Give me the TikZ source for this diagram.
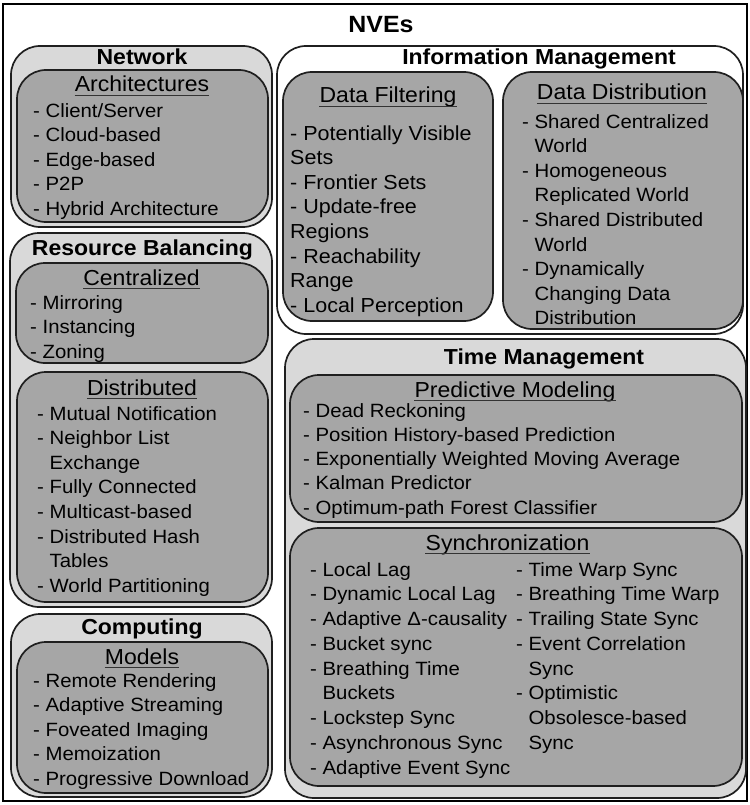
\documentclass[tikz,border=0pt]{standalone}
\usepackage{fontspec}
\setmainfont[FakeStretch=1.06]{Liberation Sans}
\newcommand{\cont}{\hphantom{- }}
\begin{document}
\begin{tikzpicture}[x=1pt,y=-1pt]

    \tikzset{
      groupbox/.style={
        draw={black!88},
        line width=1.7pt,
        fill={black!15},
        rounded corners=29pt,
      },
      modelbox/.style={
        groupbox,
        fill={black!35},
      },
      grouptitle/.style={
        inner sep=0pt,
        anchor=base,
        font=\fontsize{21.7}{26}\bfseries,
      },
      modeltitle/.style={
        inner sep=0pt,
        anchor=base,
        font=\fontsize{21.7}{26}\selectfont,
      },
      itemlist/.style={
        inner sep=0pt,
        anchor=base west,
        align=left,
        font=\fontsize{19.2}{24.6}\selectfont,
      },
    }
    \useasboundingbox (0,0) rectangle (749,805);

	 \filldraw[color={black},fill={white},line width=1.2pt] (3,4) rectangle (747,801);
	 \node[grouptitle,font=\fontsize{23.5}{28}\bfseries] (nves) at (381,33) {NVEs};

	 % left column (lists are placed by the baseline of their last line)
	 \filldraw[groupbox] (11,46) rectangle (272,227);
	 \filldraw[modelbox] (17,70) rectangle (268,222);
	 \node[grouptitle] (network) at (142,65) {Network};
	 \node[modeltitle] (arch) at (142,92) {Architectures};
	 \node[itemlist] (archlist) at (33,215.4) {- Client/Server\\- Cloud-based\\- Edge-based\\- P2P\\- Hybrid Architecture};

	 \filldraw[groupbox] (10,233) rectangle (272,607);
	 \filldraw[modelbox] (16,263) rectangle (268,363);
	 \filldraw[modelbox] (17,372) rectangle (268,602);
	 \node[grouptitle] (balancing) at (142.5,255) {Resource Balancing};
	 \node[modeltitle] (central) at (141.5,285) {Centralized};
	 \node[itemlist] (centrallist) at (30,358.2) {- Mirroring\\- Instancing\\- Zoning};
	 \node[modeltitle] (distrib) at (142,395) {Distributed};
	 \node[itemlist] (distriblist) at (37,592.2) {- Mutual Notification\\- Neighbor List\\\cont Exchange\\- Fully Connected\\- Multicast-based\\- Distributed Hash\\\cont Tables\\- World Partitioning};

	 \filldraw[groupbox] (11,614) rectangle (272,797);
	 \filldraw[modelbox] (17,642) rectangle (268,793);
	 \node[grouptitle] (computing) at (142,634) {Computing};
	 \node[modeltitle] (models) at (142,664) {Models};
	 \node[itemlist,font=\fontsize{19.2}{24.5}\selectfont] (modellist) at (33,785) {- Remote Rendering\\- Adaptive Streaming\\- Foveated Imaging\\- Memoization\\- Progressive Download};

	 % right column
	 \filldraw[groupbox,fill={white}] (277,46) rectangle (743,334);
	 \filldraw[modelbox] (283,72) rectangle (493,321);
	 \filldraw[modelbox] (503,72) rectangle (743,329);
	 \node[grouptitle] (infomgmt) at (539,65) {Information Management};
	 \node[modeltitle] (filtering) at (388,103) {Data Filtering};
	 \node[itemlist,font=\fontsize{20.3}{24.6}\selectfont] (filterlist) at (290,312.2) {- Potentially Visible\\Sets\\- Frontier Sets\\- Update-free\\Regions\\- Reachability\\Range\\- Local Perception};
	 \node[modeltitle] (distribution) at (622,100) {Data Distribution};
	 \node[itemlist] (distributionlist) at (522,324.8) {- Shared Centralized\\\cont World\\- Homogeneous\\\cont Replicated World\\- Shared Distributed\\\cont World\\- Dynamically\\\cont Changing Data\\\cont Distribution};

	 \filldraw[groupbox] (285,339) rectangle (746,798);
	 \filldraw[modelbox] (290,375) rectangle (742,522);
	 \filldraw[modelbox] (290,528) rectangle (742,786);
	 \node[grouptitle] (timemgmt) at (544,364) {Time Management};
	 \node[modeltitle] (predictive) at (515,397) {Predictive Modeling};
	 \node[itemlist,font=\fontsize{19.2}{24.3}\selectfont] (predictivelist) at (303,514.2) {- Dead Reckoning\\- Position History-based Prediction\\- Exponentially Weighted Moving Average\\- Kalman Predictor\\- Optimum-path Forest Classifier};
	 \node[modeltitle] (sync) at (507.5,550) {Synchronization};
	 \node[itemlist,font=\fontsize{19.2}{24.75}\selectfont] (synclist) at (310,774) {- Local Lag\\- Dynamic Local Lag\\- Adaptive Δ-causality\\- Bucket sync\\- Breathing Time\\\cont Buckets\\- Lockstep Sync\\- Asynchronous Sync\\- Adaptive Event Sync};
	 \node[itemlist,font=\fontsize{19.2}{24.75}\selectfont] (syncmore) at (516,749.25) {- Time Warp Sync\\- Breathing Time Warp\\- Trailing State Sync\\- Event Correlation\\\cont Sync\\- Optimistic\\\cont Obsolesce-based\\\cont Sync};

	 % underlines
	 \foreach \t in {arch,central,distrib,models,filtering,distribution,predictive,sync}
	   \draw[line width=1.1pt,color={black!80}] ([yshift=-3.2pt]\t.base west) -- ([yshift=-3.2pt]\t.base east);

\end{tikzpicture}
\end{document}
